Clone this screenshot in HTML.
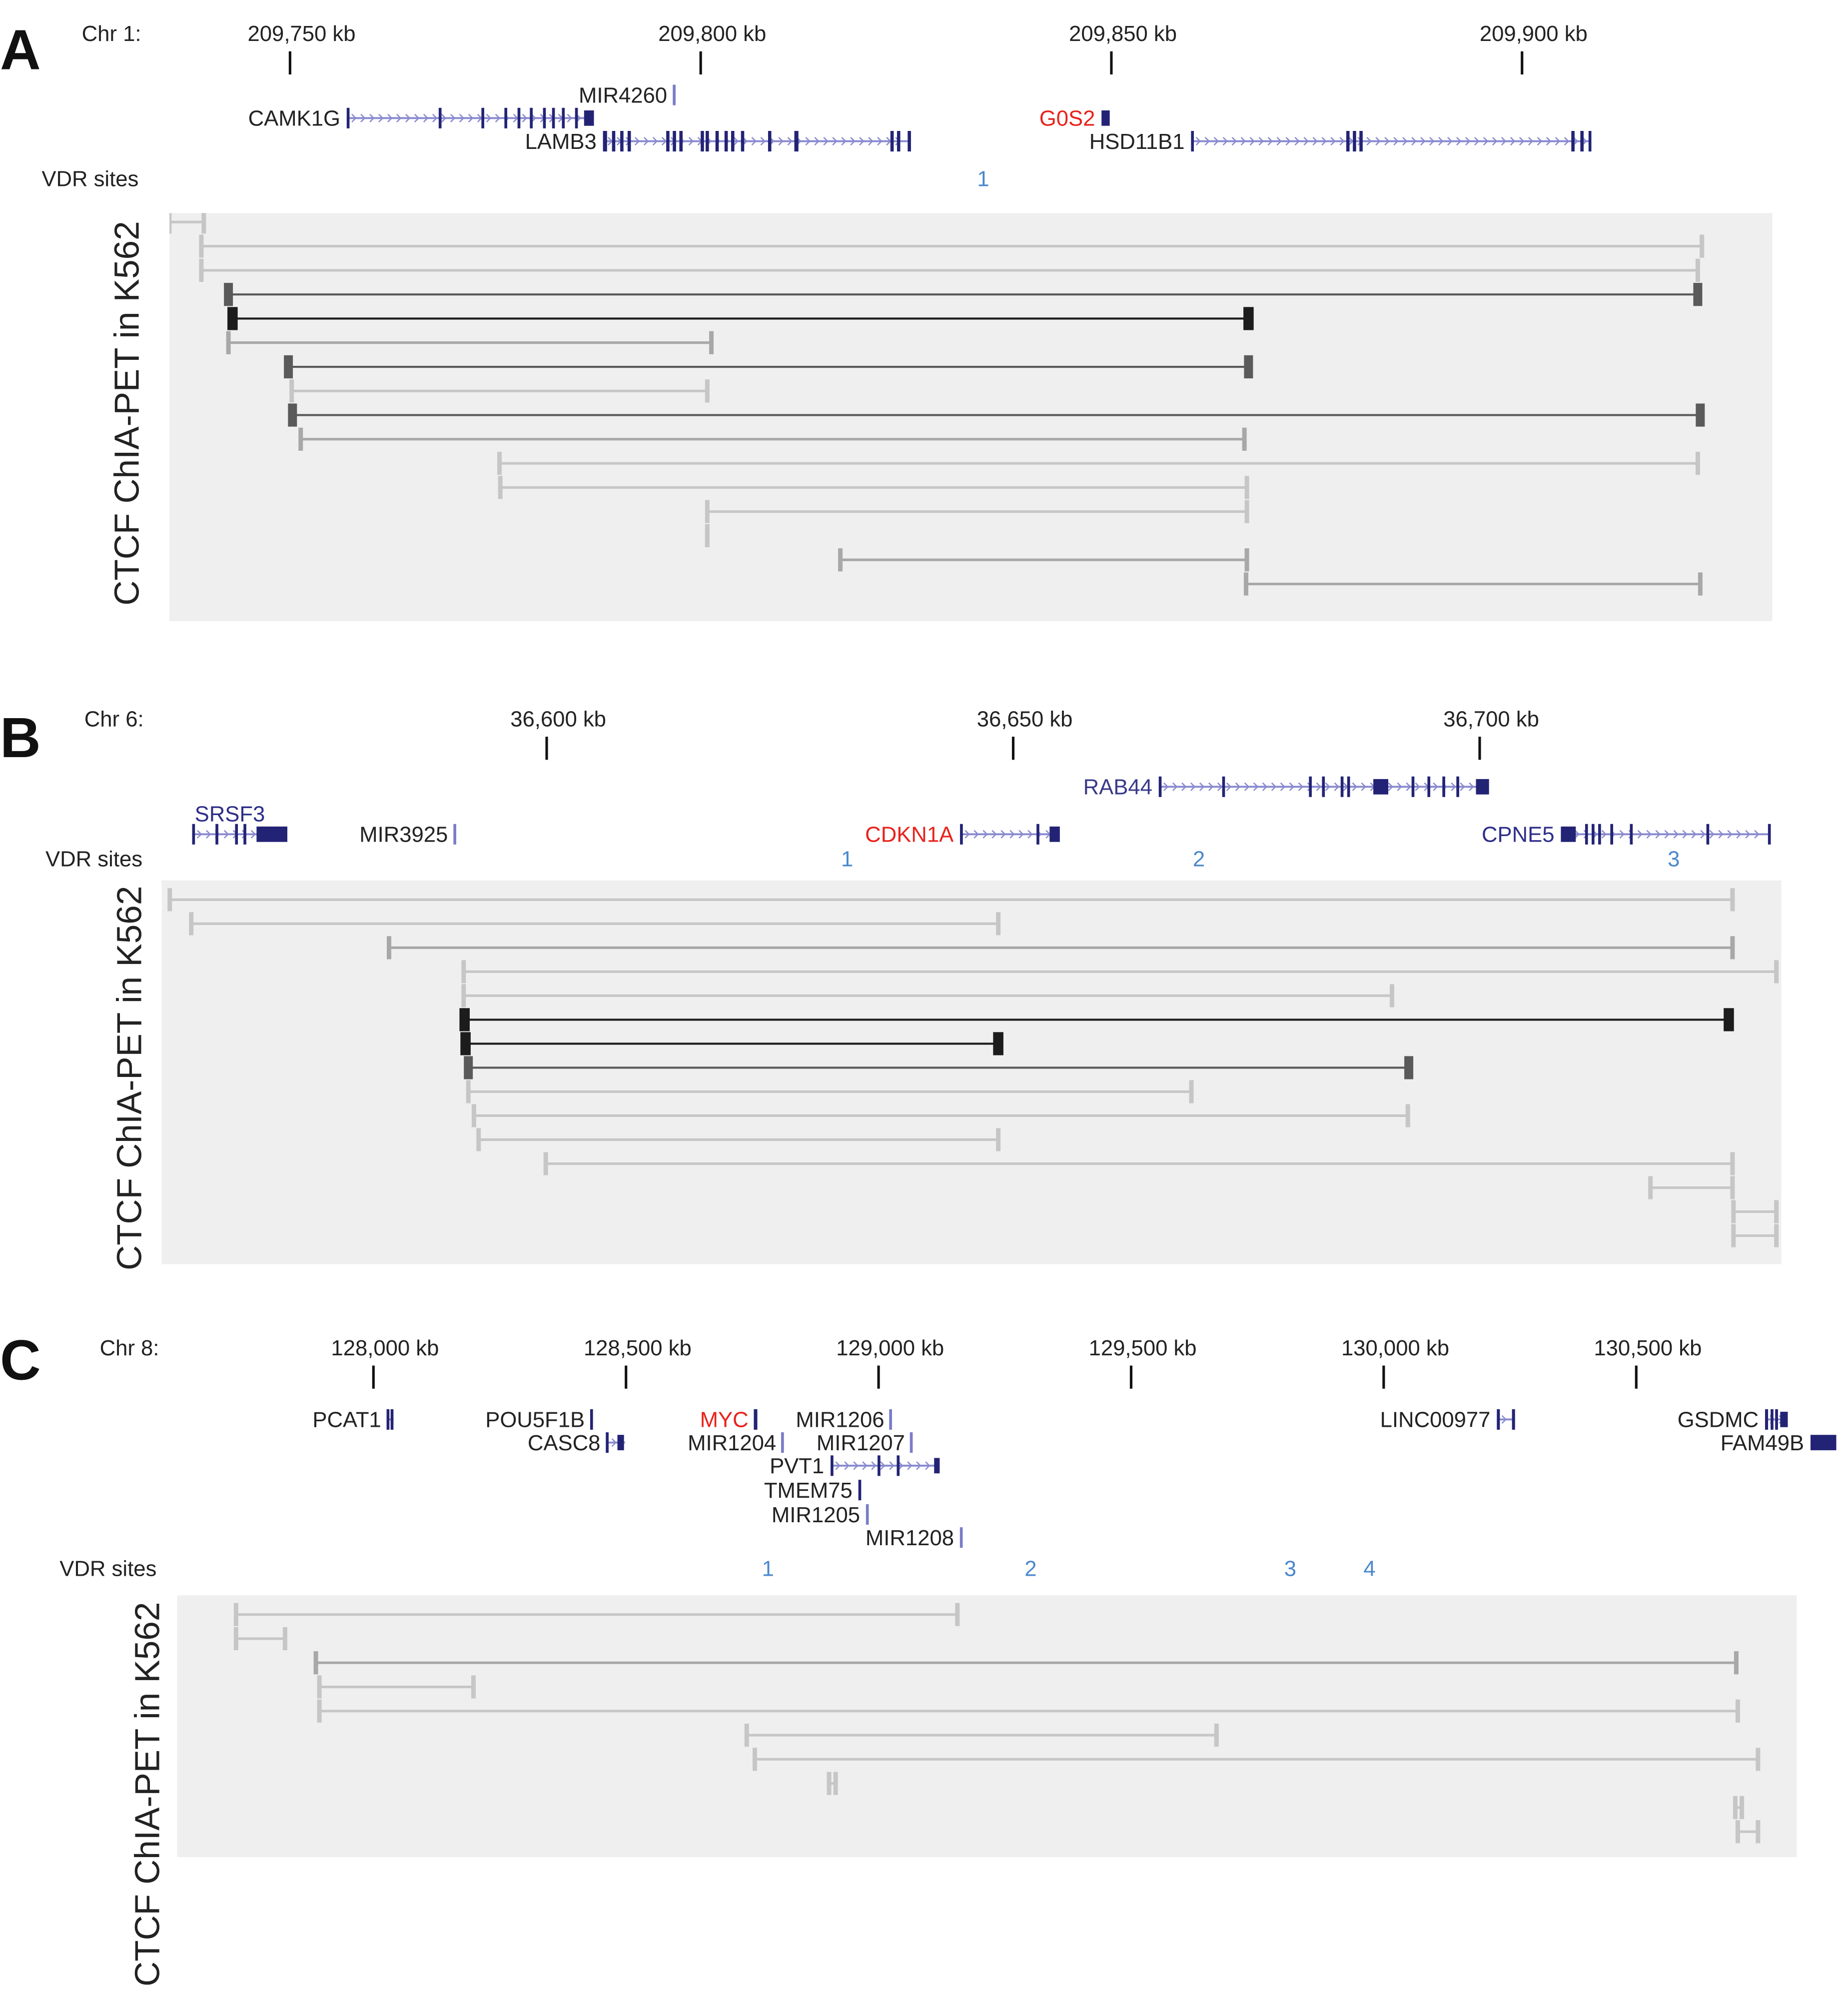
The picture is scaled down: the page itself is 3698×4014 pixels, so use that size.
<!DOCTYPE html>
<html><head><meta charset="utf-8"><style>
html,body{margin:0;padding:0;background:#fff;}
svg{display:block;font-family:"Liberation Sans",sans-serif;}
</style></head><body>
<svg id="fig" width="3698" height="4014" viewBox="0 0 1440 1563" xmlns="http://www.w3.org/2000/svg"></svg>
<script>
// ---------- DATA ----------
const aTicks = [209750, 209800, 209850, 209900];
const bTicks = [36600, 36650, 36700];
const cTicks = [128000, 128500, 129000, 129500, 130000, 130500];

// loops: [startKb, endKb, shade]  (shade: 0 light,1 mid,2 dark,3 black)
const aLoops = [
 [209735.3,209739.5,0],[209739.2,209921.9,0],[209739.2,209921.4,0],[209742.5,209921.4,2],
 [209743.0,209866.7,3],[209742.5,209801.3,1],[209749.8,209866.7,2],[209750.2,209800.8,0],
 [209750.3,209921.7,2],[209751.3,209866.2,1],[209775.5,209921.4,0],[209775.6,209866.5,0],
 [209800.8,209866.5,0],[209800.8,209800.8,0],[209817.0,209866.5,1],[209866.4,209921.7,1]
];
const bLoops = [
 [36559.6,36727.1,0],[36561.9,36648.4,0],[36583.1,36727.1,1],[36591.1,36731.8,0],
 [36591.1,36690.6,0],[36591.2,36726.7,3],[36591.3,36648.4,3],[36591.6,36692.4,2],
 [36591.6,36669.1,0],[36592.2,36692.3,0],[36592.7,36648.4,0],[36599.9,36727.1,0],
 [36718.3,36727.1,0],[36727.2,36731.8,0],[36727.2,36731.8,0]
];
const cLoops = [
 [127728,129156,0],[127728,127825,0],[127886,130698,1],[127893,128198,0],[127893,130701,0],
 [128739,129669,0],[128755,130741,0],[128902,128915,0],[130696,130709,0],[130701,130741,0]
];
const aVdr = [[1,209834.4]];
const bVdr = [[1,36632.2],[2,36669.9],[3,36720.8]];
const cVdr = [[1,128781],[2,129301],[3,129815],[4,129972]];

// genes: name, startKb, endKb, row y, color, exons [[s,e]], labelAbove
const aGenes = [
 ["CAMK1G",209756.9,209787.0,92,"#222",[[209756.9,209757.2],[209768.1,209768.4],[209773.3,209773.6],[209776.1,209776.4],[209777.7,209778.0],[209779.2,209779.5],[209780.8,209781.1],[209781.9,209782.2],[209783.1,209783.4],[209784.7,209785.0],[209785.8,209787.0]]],
 ["LAMB3",209788.1,209825.6,110,"#222",[[209788.1,209788.6],[209789.2,209789.6],[209790.2,209790.6],[209791.1,209791.5],[209795.8,209796.2],[209796.6,209797.0],[209797.4,209797.8],[209800.0,209800.4],[209800.6,209801.0],[209801.8,209802.2],[209802.9,209803.3],[209803.7,209804.1],[209804.9,209805.3],[209808.2,209808.6],[209811.4,209811.9],[209823.1,209823.5],[209823.9,209824.3],[209825.2,209825.6]]],
 ["MIR4260",209796.7,209796.9,74,"#222",[[209796.6,209796.9]]],
 ["G0S2",209848.8,209849.8,92,"#e8221c",[[209848.8,209849.8]]],
 ["HSD11B1",209859.7,209908.4,110,"#222",[[209859.7,209860.0],[209878.6,209879.0],[209879.4,209879.8],[209880.2,209880.6],[209906.0,209906.4],[209907.1,209907.5],[209908.1,209908.4]]]
];
const bGenes = [
 ["SRSF3",36562.0,36572.2,650,"#2e2e8a",[[36562.0,36562.3],[36564.5,36564.8],[36566.6,36566.9],[36567.5,36567.8],[36568.9,36572.2]],true],
 ["MIR3925",36590.1,36590.3,650,"#222",[[36590.0,36590.3]]],
 ["CDKN1A",36644.3,36655.0,650,"#e8221c",[[36644.3,36644.6],[36652.5,36652.8],[36653.9,36655.0]]],
 ["RAB44",36665.6,36701.0,613,"#3a3a8a",[[36665.6,36665.9],[36672.4,36672.7],[36681.7,36682.0],[36683.1,36683.4],[36685.1,36685.4],[36685.8,36686.1],[36688.6,36690.2],[36692.7,36693.0],[36694.4,36694.7],[36696.0,36696.3],[36697.5,36697.8],[36699.6,36701.0]]],
 ["CPNE5",36708.7,36731.2,650,"#2e2e8a",[[36708.7,36710.3],[36711.3,36711.6],[36712.0,36712.3],[36712.7,36713.0],[36714.0,36714.3],[36716.1,36716.4],[36724.3,36724.6],[36730.9,36731.2]]]
];
const cGenes = [
 ["PCAT1",128028,128040,1106,"#222",[[128026,128030],[128034,128038]]],
 ["POU5F1B",128431,128435,1106,"#222",[[128429,128434]]],
 ["CASC8",128462,128498,1124,"#222",[[128460,128463],[128483,128496]]],
 ["MYC",128755,128760,1106,"#e8221c",[[128753,128760]]],
 ["MIR1206",129024,129026,1106,"#222",[[129021,129025]]],
 ["MIR1204",128810,128812,1124,"#222",[[128807,128811]]],
 ["MIR1207",129065,129067,1124,"#222",[[129062,129066]]],
 ["PVT1",128905,129121,1142,"#222",[[128905,128909],[128998,129002],[129036,129040],[129110,129121]]],
 ["TMEM75",128961,128964,1161,"#222",[[128960,128965]]],
 ["MIR1205",128976,128978,1180,"#222",[[128975,128979]]],
 ["MIR1208",129162,129164,1198,"#222",[[129161,129165]]],
 ["LINC00977",130224,130260,1106,"#222",[[130224,130230],[130254,130260]]],
 ["GSDMC",130755,130800,1106,"#222",[[130755,130761],[130766,130770],[130775,130779],[130785,130800]]],
 ["FAM49B",130845,130896,1124,"#222",[[130845,130896]]]
];

// ---------- DRAW ----------
const NS="http://www.w3.org/2000/svg";
const svg=document.getElementById('fig');
function mk(tag,attrs,parent){const e=document.createElementNS(NS,tag);for(const k in attrs)e.setAttribute(k,attrs[k]);(parent||svg).appendChild(e);return e;}
function txt(s,x,y,size,attrs,parent){const t=mk('text',Object.assign({x:x,y:y,'font-size':size,fill:'#222'},attrs||{}),parent);t.textContent=s;return t;}
const shades=['#c6c6c6','#a8a8a8','#5a5a5a','#1c1c1c'];

function panel(cfg){
  const g=mk('g',{});
  
  
  const X=kb=>cfg.x0+(kb-cfg.k0)*cfg.pxPerKb;
  const L=txt(cfg.letter,0,cfg.letterY,44,{'font-weight':'bold',fill:'#111'},g);
  
  
  const c=txt(cfg.chr,cfg.chrX,cfg.tickY-10,17,{'text-anchor':'end'},g);
  
  
  cfg.ticks.forEach(k=>{
    const x=X(k);
    const tl=mk('line',{x1:x,x2:x,y1:cfg.tickY-2,y2:cfg.tickY+16,stroke:'#111','stroke-width':2},g);
    
    
    const t=txt(k.toLocaleString('en-US')+' kb',x+9,cfg.tickY-10,17,{'text-anchor':'middle'},g);
    
    
  });
  cfg.genes.forEach(gn=>{
    const [name,s,e,y,col,exons,above]=gn;
    const gg=mk('g',{},g);
    
    
    const x1=X(s),x2=X(e);
    if(x2-x1>3){
      mk('line',{x1:x1,x2:x2,y1:y,y2:y,stroke:'#8a8ad0','stroke-width':1.5},gg);
      for(let xx=x1+6;xx<x2-4;xx+=7){mk('path',{d:`M${xx-2},${y-3}L${xx+1},${y}L${xx-2},${y+3}`,stroke:'#8a8ad0','stroke-width':1,fill:'none'},gg);}
    }
    exons.forEach(ex=>{const a=X(ex[0]),b=X(ex[1]);const w=Math.max(2.2,b-a);
      mk('rect',{x:a,y:y-(w>4?6:8),width:w,height:w>4?12:16,fill:name.startsWith('MIR')?'#7b7bc8':'#232375'},gg);});
    const lt=above?txt(name,x1+2,y-10,17,{'text-anchor':'start',fill:col},gg)
                  :txt(name,x1-5,y+6,17,{'text-anchor':'end',fill:col},gg);
    
    
  });
  const vl=txt('VDR sites',cfg.vdrLabelX,cfg.vdrY,17,{'text-anchor':'end'},g);
  
  
  cfg.vdr.forEach(v=>{
    const t=txt(String(v[0]),X(v[1]),cfg.vdrY,17,{'text-anchor':'middle',fill:'#4a88cc'},g);
    
    
  });
  const bx=mk('rect',{x:cfg.box[0],y:cfg.box[1],width:cfg.box[2]-cfg.box[0],height:cfg.box[3]-cfg.box[1],fill:'#efefef'},g);
  
  
  const yt=txt('CTCF ChIA-PET in K562',0,0,27,{'text-anchor':'middle',transform:`translate(${cfg.titleX},${cfg.titleY}) rotate(-90)`},g);
  
  
  const clipId='clip'+cfg.letter;
  const cp=mk('clipPath',{id:clipId},g);
  mk('rect',{x:cfg.box[0],y:cfg.box[1],width:cfg.box[2]-cfg.box[0]+2,height:cfg.box[3]-cfg.box[1]},cp);
  const lg=mk('g',{'clip-path':`url(#${clipId})`},g);
  cfg.loops.forEach((lp,i)=>{
    const [s,e,sh]=lp;const y=cfg.rowY0+i*cfg.rowStep;
    const x1=X(s),x2=X(e);const col=shades[sh];
    const lg2=mk('g',{},lg);
    
    
    mk('line',{x1:x1,x2:x2,y1:y,y2:y,stroke:col,'stroke-width':sh>=2?1.6:2},lg2);
    const w=sh>=2?(sh===3?8:7):3.5;const h=18;
    mk('rect',{x:x1-w/2,y:y-h/2,width:w,height:h,fill:col},lg2);
    mk('rect',{x:x2-w/2,y:y-h/2,width:w,height:h,fill:col},lg2);
  });
}

panel({name:'panel-a',letter:'A',letterY:54,chr:'Chr 1:',chrX:110,tickY:42,ticks:aTicks,x0:226,k0:209750,pxPerKb:6.4,
  genes:aGenes,vdr:aVdr,vdrY:145,vdrLabelX:108,box:[132,166,1381,484],titleX:108,titleY:322,loops:aLoops,rowY0:173,rowStep:18.8});
panel({name:'panel-b',letter:'B',letterY:590,chr:'Chr 6:',chrX:112,tickY:576,ticks:bTicks,x0:426,k0:36600,pxPerKb:7.27,
  genes:bGenes,vdr:bVdr,vdrY:675,vdrLabelX:111,box:[126,686,1388,985],titleX:110,titleY:840,loops:bLoops,rowY0:701,rowStep:18.7});
panel({name:'panel-c',letter:'C',letterY:1075,chr:'Chr 8:',chrX:124,tickY:1066,ticks:cTicks,x0:291,k0:128000,pxPerKb:0.3936,
  genes:cGenes,vdr:cVdr,vdrY:1228,vdrLabelX:122,box:[138,1243,1400,1447],titleX:124,titleY:1398,loops:cLoops,rowY0:1258,rowStep:18.8});
</script>
</body></html>
